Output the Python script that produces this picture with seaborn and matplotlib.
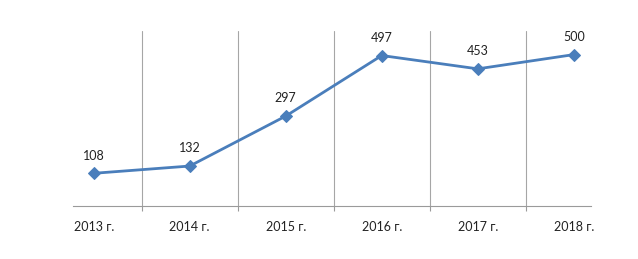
import matplotlib
matplotlib.use("Agg")
import matplotlib.pyplot as plt
import seaborn as sns
import pandas as pd
from matplotlib.ticker import FixedLocator

years = ["2013 г.", "2014 г.", "2015 г.", "2016 г.", "2017 г.", "2018 г."]
values = [108, 132, 297, 497, 453, 500]

sns.set_theme(style="white")
plt.rcParams['font.family'] = ['Lato', 'DejaVu Sans']

df = pd.DataFrame({"year": years, "value": values})

fig = plt.figure(figsize=(6.38, 2.59), dpi=100)
ax = fig.add_axes([73/638, 1-206/259, (591-73)/638, (206-31)/259])

color = "#4a7ebb"
sns.lineplot(data=df, x="year", y="value", ax=ax, color=color, linewidth=2.0,
             marker="D", markersize=6.5, markeredgecolor=color, markerfacecolor=color)

for i, v in enumerate(values):
    ax.annotate(str(v), (i, v), xytext=(0, 12.7), textcoords="offset points",
                ha="center", va="center", fontsize=9, color="#222222")

ax.set_xlim(-0.216, 5.18)
ax.set_ylim(0, 578)
ax.set_xlabel("")
ax.set_ylabel("")
ax.set_yticks([])

ax.xaxis.set_minor_locator(FixedLocator([0.5, 1.5, 2.5, 3.5, 4.5]))
ax.tick_params(axis="x", which="major", length=0, pad=11, labelsize=9, labelcolor="#222222")
ax.tick_params(axis="x", which="minor", length=3.6, width=0.8, color="#9a9a9a", direction="out", bottom=True)
ax.grid(False)
ax.grid(True, axis="x", which="minor", color="#a6a6a6", linewidth=0.8)

for s in ["top", "right", "left"]:
    ax.spines[s].set_visible(False)
ax.spines["bottom"].set_color("#9a9a9a")
ax.spines["bottom"].set_linewidth(0.8)

fig.savefig("out.png", dpi=100)
